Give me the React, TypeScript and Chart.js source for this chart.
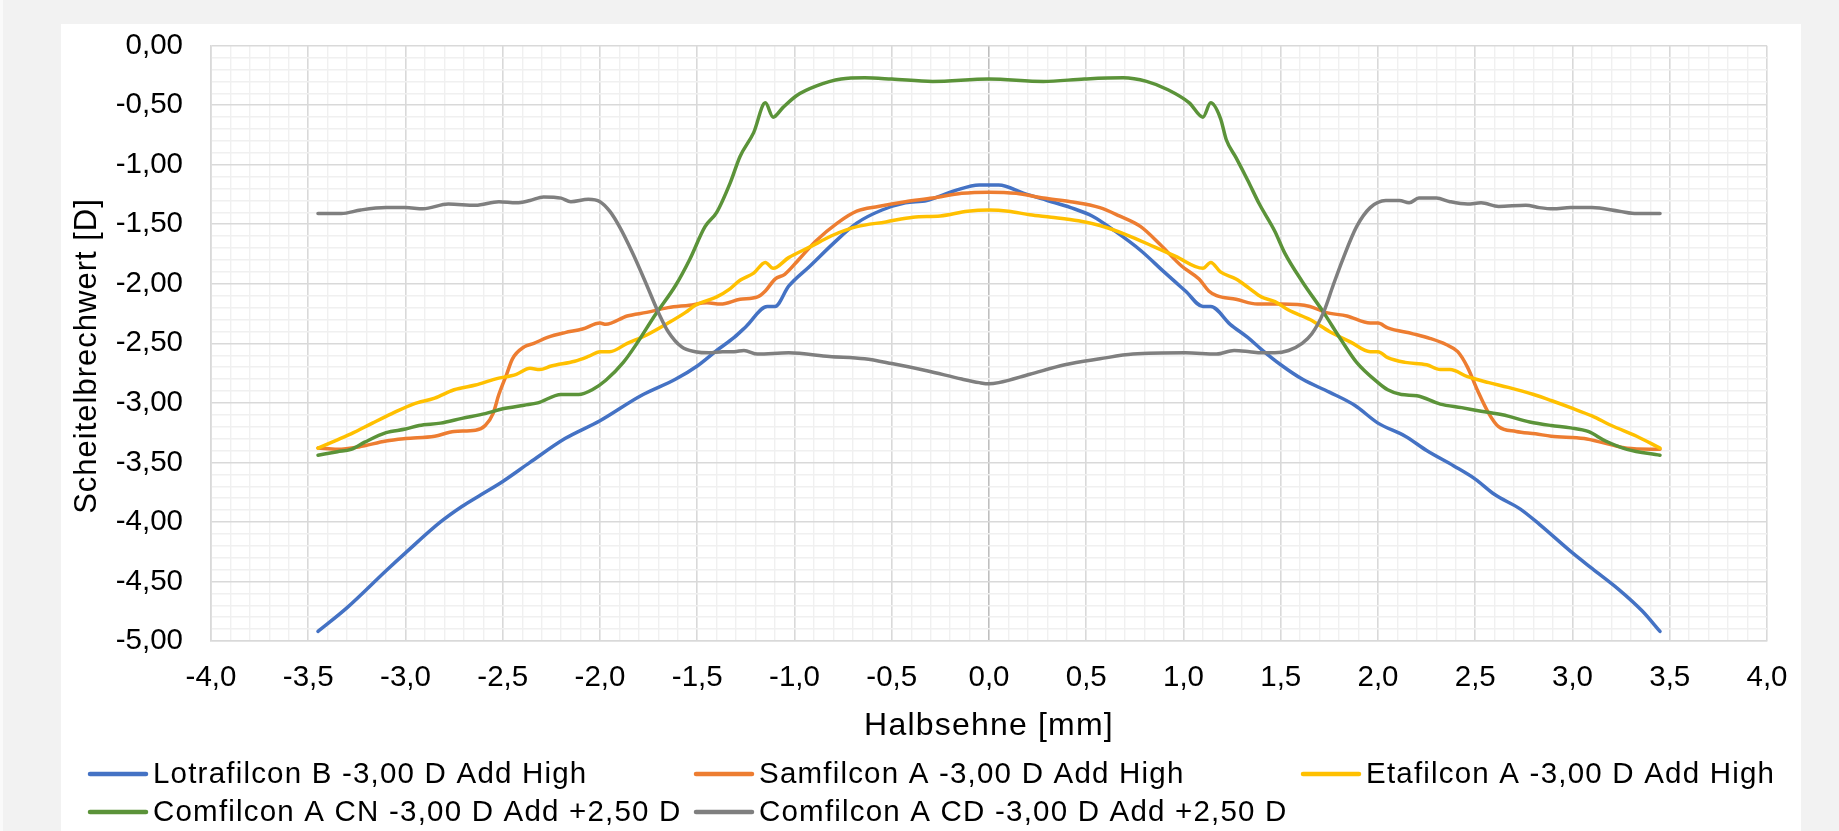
import React, { useEffect, useRef } from 'react';
import { Chart, registerables } from 'chart.js';

Chart.register(...registerables);

// ---- Data (Halbsehne [mm] -> Scheitelbrechwert [D]) ----
const lotrafilconX = [-3.45, -3.3, -3.1, -3.0, -2.82, -2.71, -2.61, -2.5, -2.36, -2.18, -2.0, -1.79, -1.61, -1.5, -1.4, -1.31, -1.25, -1.14, -1.1, -1.03, -0.92, -0.8, -0.68, -0.55, -0.43, -0.32, -0.18, -0.05, 0.05, 0.18, 0.3, 0.42, 0.53, 0.65, 0.78, 0.9, 1.01, 1.1, 1.14, 1.24, 1.33, 1.4, 1.5, 1.61, 1.75, 1.88, 2.0, 2.14, 2.25, 2.39, 2.5, 2.6, 2.73, 2.83, 3.0, 3.1, 3.24, 3.36, 3.45];
const lotrafilconY = [-4.92, -4.72, -4.41, -4.26, -4.0, -3.87, -3.77, -3.66, -3.5, -3.3, -3.15, -2.94, -2.8, -2.69, -2.56, -2.45, -2.36, -2.19, -2.19, -2.02, -1.85, -1.66, -1.49, -1.38, -1.32, -1.3, -1.22, -1.17, -1.17, -1.24, -1.3, -1.36, -1.43, -1.56, -1.72, -1.9, -2.06, -2.19, -2.19, -2.34, -2.45, -2.55, -2.68, -2.8, -2.91, -3.02, -3.17, -3.28, -3.4, -3.53, -3.64, -3.77, -3.89, -4.02, -4.26, -4.39, -4.57, -4.75, -4.92];

const samfilconX = [-3.45, -3.35, -3.24, -3.1, -3.0, -2.85, -2.75, -2.64, -2.59, -2.55, -2.52, -2.48, -2.45, -2.39, -2.34, -2.27, -2.18, -2.09, -2.0, -1.97, -1.86, -1.76, -1.65, -1.54, -1.45, -1.38, -1.28, -1.19, -1.15, -1.1, -1.05, -0.98, -0.89, -0.78, -0.68, -0.57, -0.43, -0.29, -0.14, 0.0, 0.14, 0.28, 0.42, 0.57, 0.67, 0.78, 0.88, 0.99, 1.08, 1.13, 1.17, 1.27, 1.38, 1.5, 1.65, 1.73, 1.84, 1.96, 2.0, 2.05, 2.18, 2.27, 2.35, 2.41, 2.46, 2.51, 2.57, 2.62, 2.71, 2.81, 2.89, 3.06, 3.17, 3.28, 3.45];
const samfilconY = [-3.38, -3.39, -3.37, -3.32, -3.3, -3.28, -3.24, -3.23, -3.19, -3.09, -2.93, -2.76, -2.63, -2.53, -2.5, -2.45, -2.41, -2.38, -2.33, -2.34, -2.27, -2.24, -2.2, -2.18, -2.16, -2.17, -2.13, -2.11, -2.06, -1.96, -1.92, -1.8, -1.64, -1.49, -1.39, -1.35, -1.31, -1.28, -1.24, -1.23, -1.24, -1.28, -1.31, -1.36, -1.43, -1.52, -1.67, -1.85, -1.96, -2.06, -2.1, -2.13, -2.17, -2.17, -2.19, -2.24, -2.27, -2.33, -2.33, -2.37, -2.42, -2.46, -2.51, -2.57, -2.7, -2.89, -3.09, -3.2, -3.24, -3.26, -3.28, -3.3, -3.34, -3.38, -3.39];

const etafilconX = [-3.45, -3.35, -3.28, -3.17, -3.07, -2.96, -2.85, -2.75, -2.64, -2.54, -2.43, -2.36, -2.31, -2.25, -2.13, -2.06, -2.0, -1.95, -1.86, -1.76, -1.65, -1.56, -1.51, -1.4, -1.33, -1.28, -1.21, -1.15, -1.11, -1.03, -0.92, -0.8, -0.68, -0.53, -0.39, -0.25, -0.11, 0.0, 0.1, 0.21, 0.32, 0.46, 0.57, 0.71, 0.85, 0.96, 1.1, 1.14, 1.19, 1.27, 1.34, 1.4, 1.47, 1.54, 1.65, 1.75, 1.86, 1.96, 2.0, 2.05, 2.14, 2.25, 2.32, 2.37, 2.46, 2.57, 2.67, 2.8, 2.89, 2.99, 3.1, 3.2, 3.33, 3.45];
const etafilconY = [-3.38, -3.31, -3.26, -3.17, -3.09, -3.01, -2.96, -2.89, -2.85, -2.8, -2.76, -2.71, -2.72, -2.69, -2.65, -2.61, -2.57, -2.57, -2.5, -2.43, -2.33, -2.24, -2.18, -2.11, -2.04, -1.97, -1.91, -1.82, -1.87, -1.78, -1.69, -1.59, -1.52, -1.48, -1.44, -1.43, -1.39, -1.38, -1.39, -1.42, -1.44, -1.47, -1.51, -1.59, -1.69, -1.77, -1.87, -1.82, -1.9, -1.96, -2.04, -2.11, -2.15, -2.22, -2.3, -2.4, -2.49, -2.57, -2.57, -2.62, -2.66, -2.68, -2.72, -2.72, -2.78, -2.83, -2.87, -2.93, -2.98, -3.04, -3.11, -3.19, -3.28, -3.38];

const comfilconCNX = [-3.45, -3.35, -3.28, -3.21, -3.1, -3.0, -2.93, -2.82, -2.71, -2.59, -2.5, -2.39, -2.32, -2.2, -2.11, -2.04, -1.97, -1.88, -1.81, -1.72, -1.61, -1.54, -1.46, -1.4, -1.33, -1.28, -1.21, -1.15, -1.11, -1.06, -0.99, -0.89, -0.76, -0.64, -0.5, -0.29, 0.0, 0.28, 0.49, 0.69, 0.81, 0.92, 1.03, 1.1, 1.14, 1.19, 1.22, 1.27, 1.33, 1.39, 1.47, 1.52, 1.61, 1.72, 1.81, 1.89, 2.0, 2.05, 2.12, 2.2, 2.32, 2.43, 2.53, 2.64, 2.78, 2.89, 2.99, 3.08, 3.17, 3.28, 3.45];
const comfilconCNY = [-3.44, -3.41, -3.39, -3.33, -3.25, -3.22, -3.19, -3.17, -3.13, -3.09, -3.05, -3.02, -3.0, -2.93, -2.93, -2.89, -2.81, -2.66, -2.5, -2.27, -2.01, -1.8, -1.52, -1.4, -1.15, -0.93, -0.73, -0.48, -0.6, -0.52, -0.42, -0.34, -0.28, -0.27, -0.28, -0.3, -0.28, -0.3, -0.28, -0.27, -0.3, -0.37, -0.48, -0.6, -0.48, -0.61, -0.79, -0.94, -1.13, -1.33, -1.56, -1.74, -1.98, -2.24, -2.47, -2.66, -2.83, -2.89, -2.93, -2.94, -3.01, -3.04, -3.07, -3.1, -3.16, -3.19, -3.21, -3.24, -3.32, -3.39, -3.44];

const comfilconCDX = [-3.45, -3.39, -3.33, -3.23, -3.1, -3.0, -2.91, -2.78, -2.64, -2.52, -2.43, -2.36, -2.29, -2.2, -2.15, -2.06, -2.0, -1.95, -1.9, -1.83, -1.76, -1.7, -1.65, -1.58, -1.51, -1.44, -1.37, -1.31, -1.26, -1.19, -1.03, -0.82, -0.64, -0.5, -0.32, -0.14, -0.05, 0.0, 0.05, 0.21, 0.39, 0.57, 0.74, 1.01, 1.17, 1.26, 1.34, 1.4, 1.47, 1.54, 1.61, 1.66, 1.72, 1.77, 1.82, 1.89, 1.96, 2.04, 2.11, 2.16, 2.21, 2.3, 2.37, 2.46, 2.53, 2.62, 2.76, 2.83, 2.9, 2.99, 3.1, 3.24, 3.33, 3.38, 3.45];
const comfilconCDY = [-1.41, -1.41, -1.41, -1.38, -1.36, -1.36, -1.37, -1.33, -1.34, -1.31, -1.32, -1.3, -1.27, -1.28, -1.31, -1.29, -1.31, -1.39, -1.52, -1.75, -2.01, -2.24, -2.4, -2.53, -2.57, -2.58, -2.57, -2.57, -2.56, -2.59, -2.58, -2.61, -2.63, -2.67, -2.73, -2.8, -2.83, -2.84, -2.83, -2.76, -2.68, -2.63, -2.59, -2.58, -2.59, -2.56, -2.57, -2.58, -2.58, -2.56, -2.5, -2.42, -2.24, -2.01, -1.79, -1.52, -1.36, -1.3, -1.3, -1.32, -1.28, -1.28, -1.31, -1.33, -1.32, -1.35, -1.34, -1.36, -1.37, -1.36, -1.36, -1.39, -1.41, -1.41, -1.41];

const seriesNames = [
  'Lotrafilcon B -3,00 D Add High',
  'Samfilcon A -3,00 D Add High',
  'Etafilcon A -3,00 D Add High',
  'Comfilcon A CN -3,00 D Add +2,50 D',
  'Comfilcon A CD -3,00 D Add +2,50 D',
];
const seriesColors = ['#4472C4', '#ED7D31', '#FFC000', '#5B9339', '#7F7F7F'];
const seriesX = [lotrafilconX, samfilconX, etafilconX, comfilconCNX, comfilconCDX];
const seriesY = [lotrafilconY, samfilconY, etafilconY, comfilconCNY, comfilconCDY];

const xAxisTitle = 'Halbsehne [mm]';
const yAxisTitle = 'Scheitelbrechwert [D]';

const FONT = '"Liberation Sans", Arial, sans-serif';

function isMajor(v: number) {
  return Math.round(v * 10) % 5 === 0;
}

export default function App() {
  const ref = useRef<HTMLCanvasElement>(null);

  useEffect(() => {
    const canvas = ref.current;
    if (!canvas) return;

    const bgPlugin = {
      id: 'bgPanel',
      beforeDraw(chart: any) {
        const { ctx, width, height } = chart;
        ctx.save();
        ctx.fillStyle = '#f2f2f2';
        ctx.fillRect(0, 0, width, height);
        ctx.fillStyle = '#fafafa';
        ctx.fillRect(0, 0, 3, height);
        ctx.fillStyle = '#ffffff';
        ctx.fillRect(61, 24, 1740, height - 24);
        ctx.restore();
      },
    };

    const decorPlugin = {
      id: 'decor',
      afterDraw(chart: any) {
        const { ctx, chartArea } = chart;
        ctx.save();
        ctx.fillStyle = '#000';
        // axis titles
        (ctx as any).letterSpacing = '1.2px';
        ctx.font = `32px ${FONT}`;
        ctx.textAlign = 'center';
        ctx.textBaseline = 'middle';
        ctx.fillText(xAxisTitle, (chartArea.left + chartArea.right) / 2, 726);
        (ctx as any).letterSpacing = '1px';
        ctx.font = `31px ${FONT}`;
        ctx.save();
        ctx.translate(87, 356);
        ctx.rotate(-Math.PI / 2);
        ctx.fillText(yAxisTitle, 0, 0);
        ctx.restore();
        // legend
        const cols = [88, 694, 1301];
        const rows = [774, 812];
        (ctx as any).letterSpacing = '1.2px';
        ctx.font = `29.5px ${FONT}`;
        ctx.textAlign = 'left';
        seriesNames.forEach((name, i) => {
          const cx = i < 3 ? cols[i] : cols[i - 3];
          const cy = i < 3 ? rows[0] : rows[1];
          ctx.strokeStyle = seriesColors[i];
          ctx.lineWidth = 4.5;
          ctx.lineCap = 'round';
          ctx.beginPath();
          ctx.moveTo(cx + 2, cy);
          ctx.lineTo(cx + 58, cy);
          ctx.stroke();
          ctx.fillText(name, cx + 65, cy + 1);
        });
        ctx.restore();
      },
    };

    const datasets = seriesNames.map((name, i) => ({
      label: name,
      data: seriesX[i].map((x, j) => ({ x, y: seriesY[i][j] })),
      borderColor: seriesColors[i],
      backgroundColor: seriesColors[i],
      borderWidth: 3.5,
      pointRadius: 0,
      fill: false,
      cubicInterpolationMode: 'monotone' as const,
      borderCapStyle: 'round' as const,
      borderJoinStyle: 'round' as const,
      order: 5 - i,
    }));

    const chart = new Chart(canvas, {
      type: 'line',
      data: { datasets },
      plugins: [bgPlugin, decorPlugin],
      options: {
        animation: false,
        responsive: false,
        maintainAspectRatio: false,
        layout: { padding: { left: 61, top: 44, right: 72, bottom: 0 } },
        plugins: { legend: { display: false }, tooltip: { enabled: false } },
        scales: {
          x: {
            type: 'linear',
            min: -4,
            max: 4,
            afterFit: (s: any) => { s.height = 190; },
            ticks: {
              stepSize: 0.1,
              autoSkip: false,
              maxRotation: 0,
              minRotation: 0,
              padding: 19,
              color: '#000',
              font: { family: FONT, size: 29.5 },
              callback: (v: any) => {
                const n = Number(v);
                if (!isMajor(n)) return '';
                const r = Math.round(n * 10) / 10 + 0;
                return r.toFixed(1).replace('.', ',');
              },
            },
            grid: {
              drawTicks: false,
              color: (c: any) => {
                const v = c.tick ? c.tick.value : 1;
                if (Math.abs(v) < 1e-9) return '#bfbfbf';
                return isMajor(v) ? '#d9d9d9' : '#f0f0f0';
              },
              lineWidth: (c: any) => (c.tick && isMajor(c.tick.value) ? 1.6 : 1.4),
            },
            border: { display: true, color: '#d9d9d9', width: 1.6 },
          },
          y: {
            type: 'linear',
            min: -5,
            max: 0,
            afterFit: (s: any) => { s.width = 150; },
            ticks: {
              stepSize: 0.1,
              autoSkip: false,
              padding: 28,
              color: '#000',
              font: { family: FONT, size: 29.5 },
              callback: (v: any) => {
                const n = Number(v);
                if (!isMajor(n)) return '';
                const r = Math.round(n * 100) / 100 + 0;
                return r.toFixed(2).replace('.', ',');
              },
            },
            grid: {
              drawTicks: false,
              color: (c: any) => (c.tick && isMajor(c.tick.value) ? '#d9d9d9' : '#f0f0f0'),
              lineWidth: (c: any) => (c.tick && isMajor(c.tick.value) ? 1.6 : 1.4),
            },
            border: { display: true, color: '#d9d9d9', width: 1.6 },
          },
        },
      },
    });

    return () => chart.destroy();
  }, []);

  return (
    <div style={{ position: 'absolute', left: 0, top: 0, width: 1839, height: 831 }}>
      <canvas ref={ref} width={1839} height={831} style={{ display: 'block', width: 1839, height: 831 }} />
    </div>
  );
}
